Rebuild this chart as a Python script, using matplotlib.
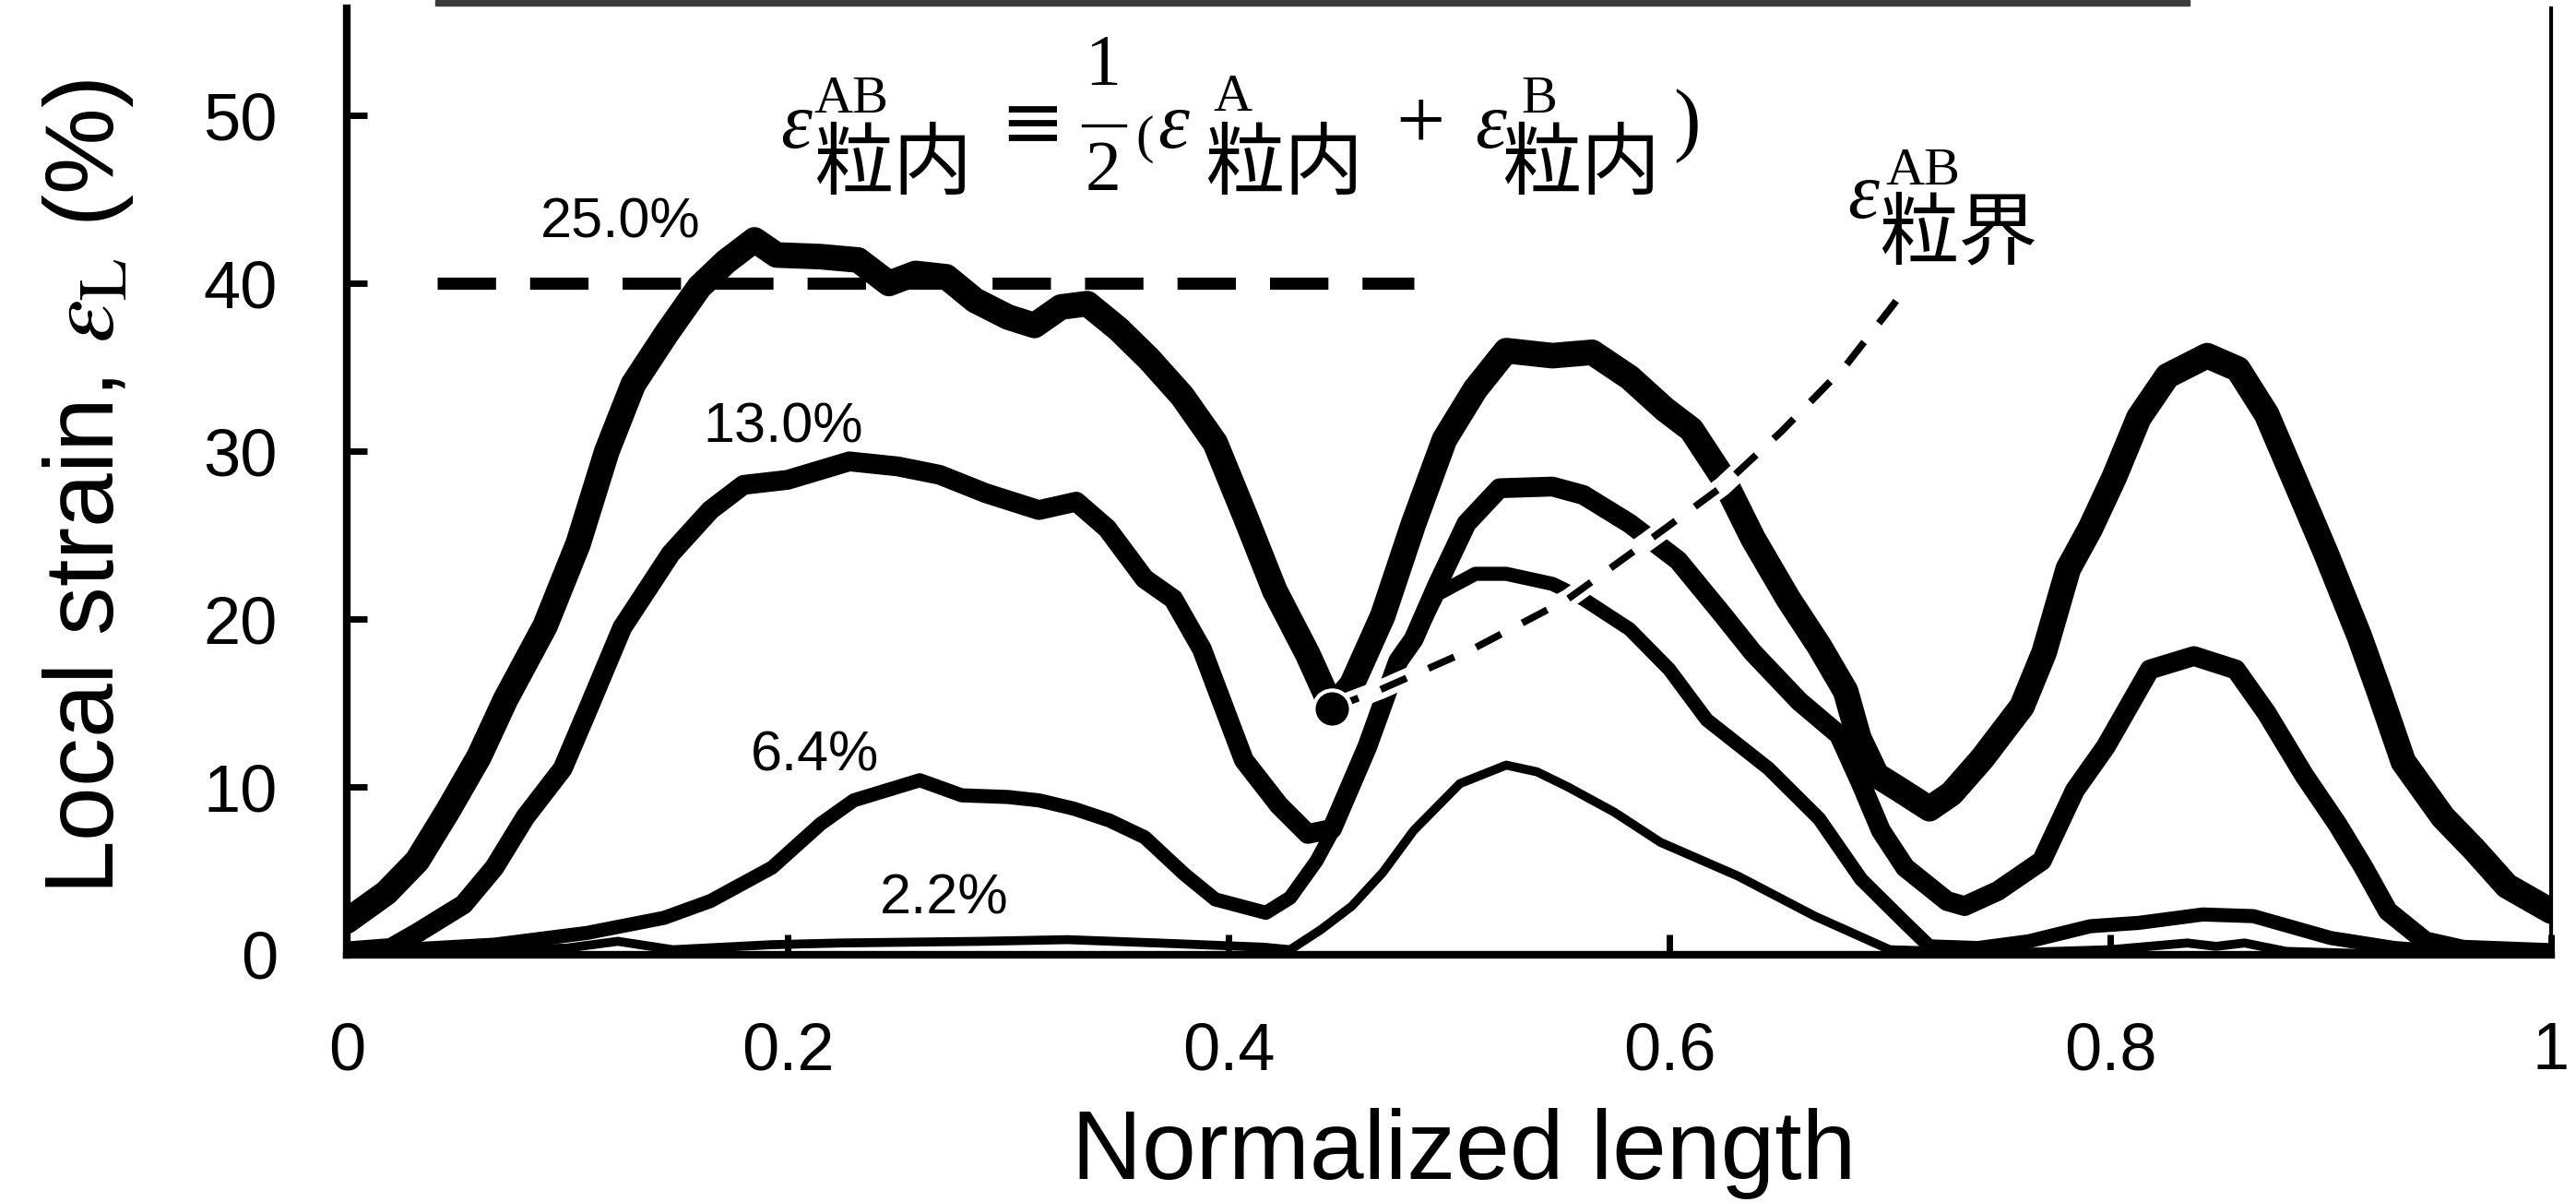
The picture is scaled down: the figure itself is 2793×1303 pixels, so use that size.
import matplotlib
matplotlib.use("Agg")
import matplotlib.pyplot as plt
from matplotlib.patches import Rectangle

plt.rcParams["font.family"] = ["Liberation Sans", "DejaVu Sans"]
plt.rcParams["mathtext.fontset"] = "stix"

# local strain (%) along the normalized length, one series per nominal strain
x_25 = [0, 0.018, 0.032, 0.046, 0.060, 0.072, 0.090, 0.105, 0.118, 0.130, 0.145, 0.160,
        0.172, 0.185, 0.195, 0.215, 0.232, 0.246, 0.258, 0.272, 0.285, 0.300, 0.312, 0.324,
        0.336, 0.350, 0.364, 0.379, 0.394, 0.408, 0.421, 0.436, 0.447, 0.456, 0.470, 0.484,
        0.498, 0.512, 0.526, 0.547, 0.565, 0.582, 0.598, 0.610, 0.624, 0.638, 0.654, 0.668,
        0.680, 0.686, 0.694, 0.705, 0.718, 0.728, 0.742, 0.760, 0.770, 0.781, 0.791, 0.802,
        0.813, 0.826, 0.844, 0.858, 0.871, 0.885, 0.898, 0.913, 0.922, 0.933, 0.951, 0.965,
        0.980, 1.0]
y_25 = [2.0, 3.7, 5.6, 8.6, 11.8, 15.2, 19.6, 24.5, 30.0, 34.0, 37.0, 39.8,
        41.3, 42.6, 41.7, 41.6, 41.4, 40.0, 40.6, 40.4, 39.0, 38.0, 37.5, 38.6,
        38.8, 37.3, 35.5, 33.3, 30.5, 26.0, 21.7, 17.9, 14.7, 16.1, 20.2, 25.7,
        30.7, 33.7, 36.0, 35.7, 35.9, 34.4, 32.5, 31.3, 28.5, 24.8, 21.2, 18.4,
        15.7, 12.9, 10.7, 9.8, 8.7, 9.6, 11.7, 14.8, 18.0, 23.0, 25.4, 28.5,
        32.0, 34.5, 35.7, 34.9, 32.2, 27.9, 23.9, 19.0, 15.7, 11.5, 8.2, 6.3,
        4.1, 2.6]

x_13 = [0, 0.020, 0.032, 0.053, 0.067, 0.081, 0.098, 0.110, 0.125, 0.147, 0.165, 0.180,
        0.200, 0.228, 0.250, 0.269, 0.290, 0.314, 0.331, 0.345, 0.362, 0.375, 0.388, 0.407,
        0.423, 0.436, 0.447, 0.463, 0.477, 0.484, 0.495, 0.508, 0.523, 0.547, 0.561, 0.582,
        0.604, 0.624, 0.638, 0.659, 0.677, 0.687, 0.696, 0.707, 0.726, 0.734, 0.749, 0.769,
        0.784, 0.798, 0.818, 0.838, 0.857, 0.871, 0.888, 0.903, 0.915, 0.926, 0.943, 0.960,
        1.0]
y_13 = [0.2, 0.4, 1.3, 3.0, 5.2, 8.2, 11.1, 14.8, 19.5, 23.9, 26.5, 28.0,
        28.3, 29.4, 29.1, 28.6, 27.5, 26.5, 27.0, 25.4, 22.4, 21.2, 18.2, 11.6,
        8.9, 7.2, 7.5, 12.4, 17.5, 18.8, 22.1, 25.7, 27.8, 27.9, 27.4, 25.7,
        23.5, 20.3, 18.0, 15.1, 13.1, 10.2, 7.4, 5.2, 3.2, 2.9, 3.8, 5.6,
        9.8, 12.4, 17.0, 17.8, 17.0, 14.4, 10.7, 7.8, 5.2, 2.6, 0.8, 0.3,
        0.1]

x_64 = [0, 0.067, 0.109, 0.144, 0.165, 0.193, 0.215, 0.230, 0.260, 0.279, 0.300, 0.314,
        0.330, 0.346, 0.362, 0.380, 0.394, 0.417, 0.428, 0.440, 0.447, 0.463, 0.477, 0.484,
        0.495, 0.512, 0.526, 0.547, 0.561, 0.582, 0.600, 0.617, 0.645, 0.668, 0.687, 0.707,
        0.718, 0.740, 0.763, 0.791, 0.813, 0.842, 0.865, 0.900, 0.929, 0.960, 1.0]
y_64 = [0.1, 0.6, 1.3, 2.2, 3.2, 5.2, 7.8, 9.2, 10.4, 9.5, 9.4, 9.2,
        8.7, 8.0, 7.0, 4.8, 3.3, 2.5, 3.4, 5.6, 7.3, 12.4, 17.2, 18.6,
        21.5, 22.7, 22.7, 22.1, 21.2, 19.4, 17.0, 14.0, 11.1, 8.1, 4.5, 1.9,
        0.5, 0.4, 0.8, 1.7, 1.9, 2.4, 2.3, 1.0, 0.4, 0.1, 0.0]

x_22 = [0, 0.050, 0.100, 0.123, 0.148, 0.193, 0.224, 0.288, 0.327, 0.368, 0.416, 0.428,
        0.442, 0.456, 0.470, 0.484, 0.505, 0.526, 0.540, 0.554, 0.575, 0.596, 0.631, 0.666,
        0.700, 0.750, 0.800, 0.835, 0.848, 0.861, 0.880, 0.920, 1.0]
y_22 = [0.1, 0.2, 0.4, 0.8, 0.3, 0.6, 0.7, 0.8, 0.9, 0.7, 0.45, 0.3,
        1.5, 2.9, 4.9, 7.4, 10.2, 11.3, 10.9, 10.0, 8.5, 6.7, 4.7, 2.3,
        0.3, 0.1, 0.3, 0.7, 0.5, 0.7, 0.2, 0.05, 0.0]

curve_labels = ["25.0%", "13.0%", "6.4%", "2.2%"]

# 40 % reference level and the grain-boundary point with its leader
ref_x = [0.041, 0.484]
ref_y = [40, 40]
gb_x = [0.447]
gb_y = [14.7]
lead_x = [0.447, 0.469, 0.512, 0.554, 0.596, 0.624, 0.651, 0.680, 0.702, 0.708]
lead_y = [14.7, 15.8, 18.3, 21.2, 25.2, 27.9, 31.2, 35.1, 38.8, 39.9]

x_ticks = [0, 0.2, 0.4, 0.6, 0.8, 1]
x_ticklabels = ["0", "0.2", "0.4", "0.6", "0.8", "1"]
y_ticks = [0, 10, 20, 30, 40, 50]


fig = plt.figure(figsize=(27.93, 13.03), dpi=100)
ax = fig.add_axes([0.1346, 0.2057, 0.8557, 0.7874])

series = [(x_25, y_25, 20), (x_13, y_13, 15.5), (x_64, y_64, 11), (x_22, y_22, 7)]
for xs, ys, lw in series:
    ax.plot(xs, ys, color="black", lw=lw, solid_joinstyle="round", solid_capstyle="round")

ax.plot(ref_x, ref_y, color="black", lw=9.5, dashes=(4.8, 2.8), solid_capstyle="butt")

# leader: white halo under a black dashed line
ax.plot(lead_x, lead_y, color="white", lw=15, solid_capstyle="round", zorder=5)
ax.plot(lead_x, lead_y, color="black", lw=5.5, dashes=(4.0, 3.4), zorder=6)
ax.plot(gb_x, gb_y, "o", ms=29, mfc="black", mec="white", mew=3, zorder=7)

label_pos = [(0.124, 43.6), (0.198, 31.4), (0.2125, 11.8), (0.271, 3.3)]
for txt, (tx, ty) in zip(curve_labels, label_pos):
    ax.text(tx, ty, txt, fontsize=44, ha="center", va="center")

# equation: eps^AB_in = 1/2 (eps^A_in + eps^B_in)
serif = ["Liberation Serif", "DejaVu Serif"]
cjk = ["Noto Sans CJK JP", "DejaVu Sans"]
sym = ["DejaVu Sans"]

def eps(x, y, size=62):
    ax.text(x, y, "ε", fontsize=size, family=serif, style="italic", ha="center", va="baseline")

def sup(x, y, s, size=42):
    ax.text(x, y, s, fontsize=size, family=serif, ha="left", va="baseline")

def sub(x, y, s, size=62):
    ax.text(x, y, s, fontsize=size, family=cjk, ha="left", va="center")

eps(0.204, 48.1)
sup(0.212, 50.2, "AB")
sub(0.212, 47.0, "粒内")
ax.text(0.311, 49.4, "≡", fontsize=60, family=sym, ha="center", va="center")
ax.text(0.343, 52.9, "1", fontsize=56, family=serif, ha="center", va="center")
ax.text(0.343, 46.6, "2", fontsize=56, family=serif, ha="center", va="center")
ax.plot([0.334, 0.353], [49.4, 49.4], color="black", lw=2.4)
ax.text(0.362, 48.6, "(", fontsize=42, family=serif, ha="center", va="center")
eps(0.375, 48.1)
sup(0.393, 50.3, "A")
sub(0.389, 47.0, "粒内")
ax.text(0.487, 49.3, "+", fontsize=68, family=serif, ha="center", va="center")
eps(0.519, 48.1)
sup(0.533, 50.2, "B")
sub(0.524, 47.0, "粒内")
ax.text(0.608, 49.4, ")", fontsize=64, family=serif, ha="center", va="center")

# grain boundary label
eps(0.688, 43.9)
sup(0.698, 45.9, "AB")
sub(0.695, 42.9, "粒界")

ax.set_xlim(0, 1)
ax.set_ylim(0, 56.4)
ax.set_xticks(x_ticks)
ax.set_xticklabels(x_ticklabels)
ax.set_yticks(y_ticks)
ax.tick_params(direction="in", length=16, width=5, labelsize=52)
ax.tick_params(axis="x", pad=52)
ax.tick_params(axis="y", pad=54)

ax.spines["top"].set_visible(False)
ax.spines["right"].set_linewidth(3)
ax.spines["left"].set_linewidth(6)
ax.spines["bottom"].set_linewidth(6)

ax.set_xlabel("Normalized length", fontsize=76)
ax.xaxis.set_label_coords(0.507, -0.162)
ax.set_ylabel(r"Local strain, $\varepsilon_{\mathrm{L}}$ (%)", fontsize=76)
ax.yaxis.set_label_coords(-0.096, 0.494)

# dark strip cut off at the top edge of the figure
fig.patches.append(Rectangle((0.169, 0.9954), 0.681, 0.0046, transform=fig.transFigure,
                             color="#3c3c3c"))

fig.savefig("out.png", dpi=100)
